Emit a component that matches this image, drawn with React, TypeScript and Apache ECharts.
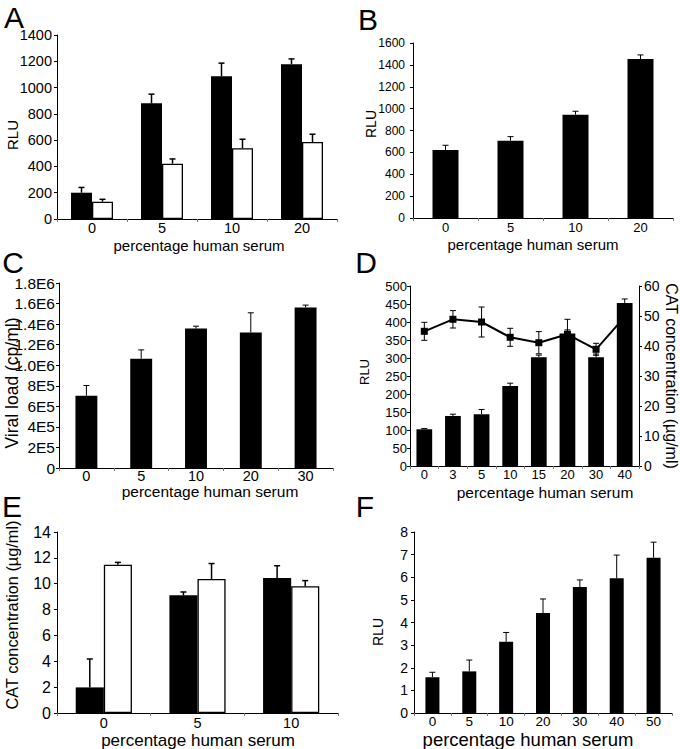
import React, { useEffect, useRef } from "react";
import * as echarts from "echarts";

const FONT = "'Liberation Sans', Arial, Helvetica, sans-serif";

// ---------- Panel A ----------
const aCategories = ["0", "5", "10", "20"];
const aBlack = [200, 880, 1086, 1178];
const aBlackErr = [40, 70, 100, 40];
const aWhite = [132, 421, 538, 586];
const aWhiteErr = [18, 36, 69, 59];

// ---------- Panel B ----------
const bCategories = ["0", "5", "10", "20"];
const bValues = [622, 707, 945, 1454];
const bErr = [43, 37, 31, 37];

// ---------- Panel C ----------
const cCategories = ["0", "5", "10", "20", "30"];
const cValues = [703000, 1064000, 1357000, 1318000, 1562000];
const cErr = [100000, 85000, 23000, 192000, 23000];
const cTickLabels = ["0", "2E5", "4E5", "6E5", "8E5", "1.0E6", "1.2E6", "1.4E6", "1.6E6", "1.8E6"];

// ---------- Panel D ----------
const dCategories = ["0", "3", "5", "10", "15", "20", "30", "40"];
const dBars = [102, 139, 144, 222, 302, 368, 302, 453];
const dBarsErr = [2, 5, 13, 8, 6, 10, 9, 11];
const dLine = [44.9, 48.9, 48.0, 42.9, 41.1, 43.9, 38.9, 49.7];
const dLineErr = [3, 2.9, 5, 3, 3.7, 5, 2, 1];

// ---------- Panel E ----------
const eCategories = ["0", "5", "10"];
const eBlack = [1.98, 9.1, 10.44];
const eBlackErr = [2.2, 0.26, 0.95];
const eWhite = [11.47, 10.36, 9.8];
const eWhiteErr = [0.18, 1.2, 0.44];

// ---------- Panel F ----------
const fCategories = ["0", "5", "10", "20", "30", "40", "50"];
const fValues = [1.58, 1.84, 3.15, 4.42, 5.57, 5.96, 6.86];
const fErr = [0.22, 0.5, 0.41, 0.62, 0.31, 1.02, 0.69];

const xName = "percentage human serum";
const rluName = "RLU";
const viralName = "Viral load (cp/ml)";
const catName = "CAT concentration (µg/ml)";

function xAxis(grid: number, data: string[], fontSize: number, margin: number) {
  return {
    type: "category",
    gridIndex: grid,
    data,
    axisLine: { lineStyle: { color: "#000", width: 1 } },
    axisTick: { show: true, length: 3, lineStyle: { color: "#777" } },
    axisLabel: { color: "#000", fontSize, fontFamily: FONT, margin, lineHeight: fontSize },
    splitLine: { show: false },
  };
}

function yAxis(grid: number, max: number, interval: number, fontSize: number, margin: number, extra: any = {}) {
  return {
    type: "value",
    gridIndex: grid,
    min: 0,
    max,
    interval,
    axisLine: { show: true, lineStyle: { color: "#000", width: 1 } },
    axisTick: { show: true, length: 3, lineStyle: { color: "#000" } },
    axisLabel: {
      color: "#000",
      fontSize,
      fontFamily: FONT,
      margin,
      formatter: (v: number) => String(v),
      ...(extra.axisLabel || {}),
    },
    splitLine: { show: false },
    ...(extra.position ? { position: extra.position } : {}),
  };
}

function bar(xi: number, yi: number, data: number[], color: string, barWidth: string, z = 3) {
  return {
    type: "bar",
    xAxisIndex: xi,
    yAxisIndex: yi,
    data,
    barWidth,
    barGap: "0%",
    z,
    itemStyle: { color, borderColor: "#000", borderWidth: color === "#fff" ? 1.3 : 0 },
  };
}

function errBars(
  xi: number,
  yi: number,
  values: number[],
  errs: number[],
  offsetFrac: number,
  both: boolean,
  capHalf: number,
  lineWidth: number,
  color: string,
  z: number
) {
  return {
    type: "custom",
    xAxisIndex: xi,
    yAxisIndex: yi,
    z,
    clip: false,
    silent: true,
    data: values.map((v, i) => [i, v, errs[i]]),
    renderItem: (_params: any, api: any) => {
      const idx = api.value(0);
      const v = api.value(1);
      const e = api.value(2);
      const band = api.size([1, 0])[0];
      const base = api.coord([idx, v]);
      const top = api.coord([idx, v + e]);
      const bot = api.coord([idx, v - e]);
      const cx = base[0] + band * offsetFrac;
      const st = { stroke: color, lineWidth };
      const children: any[] = [
        { type: "line", shape: { x1: cx, y1: both ? bot[1] : base[1], x2: cx, y2: top[1] }, style: st },
        { type: "line", shape: { x1: cx - capHalf, y1: top[1], x2: cx + capHalf, y2: top[1] }, style: st },
      ];
      if (both) {
        children.push({ type: "line", shape: { x1: cx - capHalf, y1: bot[1], x2: cx + capHalf, y2: bot[1] }, style: st });
      }
      return { type: "group", children };
    },
  };
}

function txt(text: string, x: number, y: number, size: number, rotation = 0) {
  return {
    type: "text",
    x,
    y,
    rotation,
    silent: true,
    style: {
      text,
      fill: "#000",
      fontSize: size,
      fontFamily: FONT,
      font: `${size}px ${FONT}`,
      align: "center",
      verticalAlign: "middle",
      textAlign: "center",
      textVerticalAlign: "middle",
    },
  };
}

export default function App() {
  const ref = useRef<HTMLDivElement>(null);
  useEffect(() => {
    if (!ref.current) return;
    const chart = echarts.init(ref.current, undefined, { renderer: "svg" });
    const option: any = {
      animation: false,
      backgroundColor: "#fff",
      textStyle: { fontFamily: FONT, color: "#000" },
      grid: [
        { left: 57, top: 35, width: 280, height: 184 },
        { left: 413, top: 43, width: 260, height: 175 },
        { left: 59, top: 283, width: 274, height: 185 },
        { left: 410, top: 286, width: 229, height: 180 },
        { left: 57, top: 532, width: 281, height: 181 },
        { left: 414, top: 532, width: 258, height: 181 },
      ],
      xAxis: [
        xAxis(0, aCategories, 14.5, 2),
        xAxis(1, bCategories, 13, 3),
        xAxis(2, cCategories, 14.5, 1),
        xAxis(3, dCategories, 13, 2),
        xAxis(4, eCategories, 14.5, 3),
        xAxis(5, fCategories, 13.5, 2),
      ],
      yAxis: [
        yAxis(0, 1400, 200, 14.5, 5),
        yAxis(1, 1600, 200, 12, 8),
        yAxis(2, 1800000, 200000, 15.5, 4, {
          axisLabel: { formatter: (v: number) => cTickLabels[Math.round(v / 200000)] },
        }),
        yAxis(3, 500, 50, 13, 3),
        yAxis(3, 60, 10, 14, 5, { position: "right" }),
        yAxis(4, 14, 2, 16, 6),
        yAxis(5, 8, 1, 14, 6),
      ],
      series: [
        // A
        bar(0, 0, aBlack, "#000", "30%"),
        bar(0, 0, aWhite, "#fff", "30%"),
        errBars(0, 0, aBlack, aBlackErr, -0.15, false, 3, 1.5, "#000", 5),
        errBars(0, 0, aWhite, aWhiteErr, 0.15, false, 3, 1.5, "#000", 5),
        // B
        bar(1, 1, bValues, "#000", "40%"),
        errBars(1, 1, bValues, bErr, 0, false, 3, 1, "#000", 5),
        // C
        bar(2, 2, cValues, "#000", "40%"),
        errBars(2, 2, cValues, cErr, 0, false, 3, 1, "#000", 5),
        // D
        {
          type: "line",
          xAxisIndex: 3,
          yAxisIndex: 4,
          data: dLine,
          symbol: "rect",
          symbolSize: 7,
          z: 2,
          lineStyle: { color: "#000", width: 2 },
          itemStyle: { color: "#000" },
        },
        errBars(3, 4, dLine, dLineErr, 0, true, 3, 1, "#000", 2),
        bar(3, 3, dBars, "#000", "55%", 4),
        errBars(3, 3, dBars, dBarsErr, 0, false, 3, 1, "#000", 5),
        // E
        bar(4, 5, eBlack, "#000", "30%"),
        bar(4, 5, eWhite, "#fff", "30%"),
        errBars(4, 5, eBlack, eBlackErr, -0.15, false, 3, 1.5, "#000", 5),
        errBars(4, 5, eWhite, eWhiteErr, 0.15, false, 3, 1.5, "#000", 5),
        // F
        bar(5, 6, fValues, "#000", "38%"),
        errBars(5, 6, fValues, fErr, 0, false, 3, 1, "#000", 5),
      ],
      graphic: [
        // panel letters
        txt("A", 14, 17, 30),
        txt("B", 368, 19, 30),
        txt("C", 13, 262, 30),
        txt("D", 366, 262, 30),
        txt("E", 12, 506, 30),
        txt("F", 365, 506, 30),
        // x axis names
        txt(xName, 199, 245, 15),
        txt(xName, 533, 244.5, 15),
        txt(xName, 210, 491.5, 15.5),
        txt(xName, 545, 492.5, 15.5),
        txt(xName, 198, 740, 17),
        txt(xName, 528, 739.5, 18.5),
        // y axis names
        txt(rluName, 12, 135, 15, Math.PI / 2),
        txt(rluName, 371, 124, 14, Math.PI / 2),
        txt(viralName, 12, 383, 17.5, Math.PI / 2),
        txt(rluName, 364, 372, 13, Math.PI / 2),
        txt(catName, 671, 376, 16, -Math.PI / 2),
        txt(catName, 12, 615, 16.3, Math.PI / 2),
        txt(rluName, 378, 632, 14, Math.PI / 2),
      ],
    };
    chart.setOption(option);
    return () => chart.dispose();
  }, []);
  return (
    <div
      ref={ref}
      style={{ position: "fixed", left: 0, top: 0, width: 680, height: 749, background: "#fff" }}
    />
  );
}
